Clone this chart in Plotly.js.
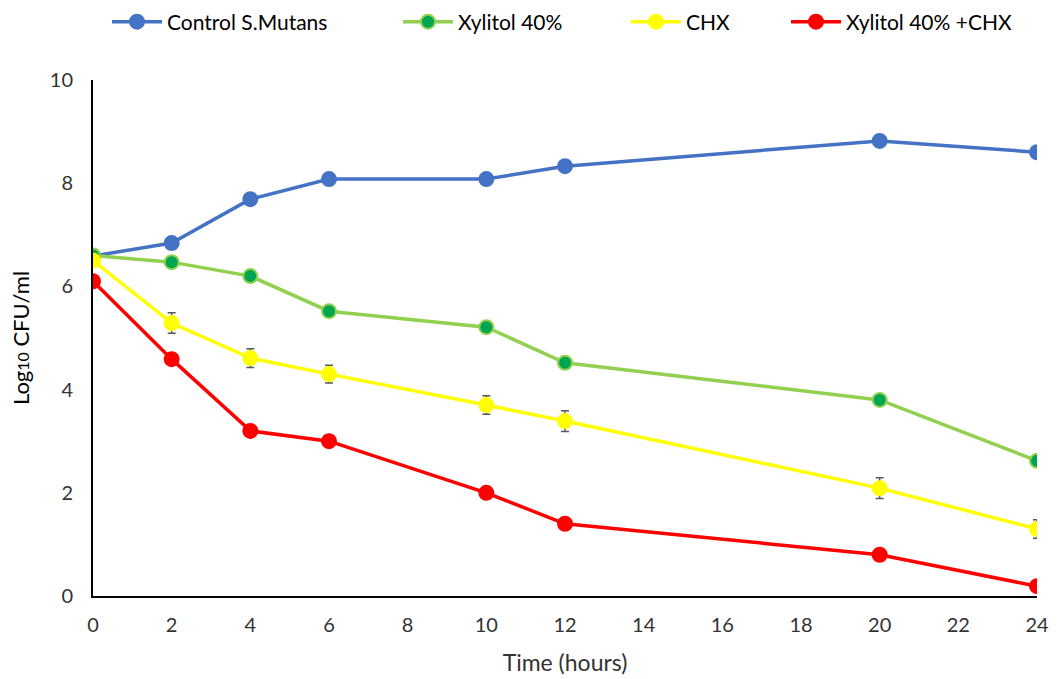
<!DOCTYPE html>
<html><head><meta charset="utf-8">
<script src="https://cdn.plot.ly/plotly-3.0.1.min.js"></script>
<style>html,body{margin:0;padding:0;background:#fff}#chart{width:1058px;height:679px}</style>
</head><body><div id="chart"></div>
<script>
const hours = [0, 2, 4, 6, 10, 12, 20, 24];
const controlVals = [6.59, 6.84, 7.69, 8.08, 8.08, 8.33, 8.82, 8.60];
const controlErr  = [0.08, 0.08, 0.08, 0.08, 0.08, 0.08, 0.08, 0.06];
const xylitolVals = [6.60, 6.47, 6.20, 5.52, 5.21, 4.52, 3.80, 2.62];
const xylitolErr  = [0.08, 0.09, 0.09, 0.09, 0.09, 0.1, 0.1, 0.09];
const chxVals     = [6.50, 5.29, 4.61, 4.30, 3.70, 3.39, 2.09, 1.30];
const chxErr      = [0.10, 0.20, 0.18, 0.17, 0.18, 0.20, 0.20, 0.18];
const comboVals   = [6.10, 4.59, 3.20, 3.00, 2.00, 1.40, 0.80, 0.19];
const comboErr    = [0.08, 0.09, 0.09, 0.08, 0.08, 0.08, 0.08, 0.06];
const seriesNames = ['Control S.Mutans', 'Xylitol 40%', 'CHX', 'Xylitol 40% +CHX'];

const FONT = 'Lato, "Liberation Sans", sans-serif';
function tr(name, y, err, lineColor, fill, border, leg) {
  return {
    x: hours, y: y, name: name, type: 'scatter', mode: 'lines+markers', legend: leg,
    line: {color: lineColor, width: 3.5},
    marker: {size: 14, color: fill, line: {color: border, width: 2}},
    error_y: {type: 'data', array: err, visible: true, color: '#595959', thickness: 1.5, width: 4}
  };
}
const data = [
  tr(seriesNames[0], controlVals, controlErr, '#4472C4', '#4472C4', '#4472C4', 'legend'),
  tr(seriesNames[1], xylitolVals, xylitolErr, '#92D050', '#00A550', '#92D050', 'legend2'),
  tr(seriesNames[2], chxVals, chxErr, '#FFFF00', '#FFFF00', '#FFFF00', 'legend3'),
  tr(seriesNames[3], comboVals, comboErr, '#FF0000', '#FF0000', '#FF0000', 'legend4')
];
function leg(px) {
  return {orientation: 'h', xref: 'container', yref: 'container', x: px / 1058, xanchor: 'left',
          y: 1 - 22 / 679, yanchor: 'middle', bgcolor: 'rgba(0,0,0,0)',
          font: {family: FONT, size: 21, color: '#000'}, itemwidth: 50};
}
const layout = {
  width: 1058, height: 679,
  margin: {l: 93, r: 21, t: 80, b: 83},
  paper_bgcolor: '#fff', plot_bgcolor: '#fff',
  font: {family: FONT, size: 20, color: '#000'},
  showlegend: true,
  legend: leg(107), legend2: leg(398), legend3: leg(626), legend4: leg(786),
  xaxis: {range: [0, 24], tickvals: [0,2,4,6,8,10,12,14,16,18,20,22,24], showgrid: false,
          zeroline: false, showline: true, linecolor: '#000', linewidth: 2, ticks: '',
          tickfont: {family: FONT, size: 20, color: '#333'}, ticklabelstandoff: 10,
          title: {text: 'Time (hours)', font: {family: FONT, size: 23, color: '#333'}, standoff: 20}},
  yaxis: {range: [0, 10], tickvals: [0,2,4,6,8,10], showgrid: false, zeroline: false,
          showline: true, linecolor: '#000', linewidth: 2, ticks: '',
          tickfont: {family: FONT, size: 20, color: '#333'}, ticklabelstandoff: 14,
          title: {text: "Log<span style='font-size:16px'>10</span> CFU/ml", font: {family: FONT, size: 22, color: '#000'}, standoff: 14}},
};
Plotly.newPlot('chart', data, layout, {displayModeBar: false, staticPlot: true});
</script></body></html>
